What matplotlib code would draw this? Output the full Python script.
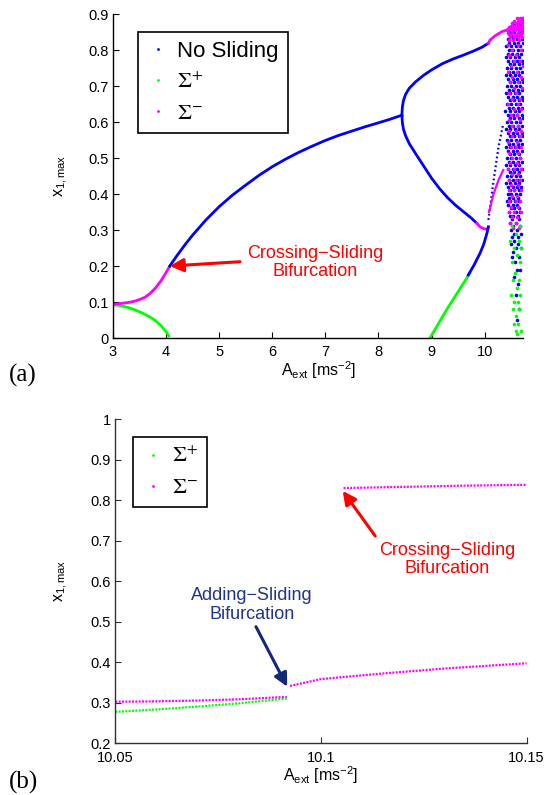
import numpy as np
import matplotlib.pyplot as plt
from matplotlib.lines import Line2D

plt.rcParams['font.family'] = ['Liberation Sans', 'DejaVu Sans']
plt.rcParams['mathtext.fontset'] = 'custom'
plt.rcParams['mathtext.rm'] = 'Liberation Sans'
plt.rcParams['mathtext.it'] = 'Liberation Sans:italic'
plt.rcParams['mathtext.bf'] = 'Liberation Sans:bold'

BLUE = '#0000ff'
GREEN = '#00ff00'
PINK = '#ff00ff'

# ---- panel (a): full bifurcation diagram, A_ext from 3 to ~10.7 ----
green_left_x = [3.0, 3.1, 3.2, 3.3, 3.4, 3.5, 3.6, 3.7, 3.8, 3.9, 4.0, 4.05]
green_left_y = [0.092, 0.091, 0.088, 0.084, 0.079, 0.073, 0.066, 0.058, 0.048, 0.035, 0.018, 0.006]

pink_left_x = [3.0, 3.1, 3.2, 3.3, 3.4, 3.5, 3.6, 3.7, 3.8, 3.9, 4.0, 4.07]
pink_left_y = [0.094, 0.095, 0.097, 0.099, 0.102, 0.107, 0.113, 0.124, 0.139, 0.158, 0.182, 0.200]

blue_main_x = [4.07, 4.2, 4.35, 4.5, 4.75, 5.0, 5.25, 5.5, 5.75, 6.0, 6.25, 6.5,
               6.75, 7.0, 7.25, 7.5, 7.75, 8.0, 8.2, 8.44]
blue_main_y = [0.200, 0.228, 0.258, 0.286, 0.328, 0.365, 0.397, 0.425, 0.452, 0.476, 0.497, 0.516,
               0.533, 0.549, 0.563, 0.575, 0.587, 0.598, 0.607, 0.619]

blue_upper_x = [8.44, 8.45, 8.47, 8.51, 8.58, 8.7, 8.85, 9.0, 9.2, 9.4, 9.6, 9.8, 9.95, 10.07]
blue_upper_y = [0.619, 0.642, 0.660, 0.677, 0.694, 0.712, 0.730, 0.745, 0.762, 0.775, 0.786, 0.798, 0.808, 0.819]

pink_upper_x = [10.07, 10.1, 10.2, 10.32, 10.42]
pink_upper_y = [0.819, 0.828, 0.840, 0.851, 0.856]

blue_lower_x = [8.44, 8.45, 8.47, 8.51, 8.58, 8.7, 8.85, 9.0, 9.15, 9.3, 9.45, 9.6, 9.75, 9.85]
blue_lower_y = [0.619, 0.598, 0.580, 0.562, 0.540, 0.512, 0.478, 0.444, 0.415, 0.390, 0.369, 0.351, 0.333, 0.319]

pink_lower_x = [9.85, 9.91, 9.98, 10.04, 10.06]
pink_lower_y = [0.319, 0.309, 0.304, 0.302, 0.305]

green_right_x = [8.97, 9.28, 9.6, 9.72]
green_right_y = [0.0, 0.078, 0.152, 0.180]

blue_right_x = [9.69, 9.8, 9.91, 9.98, 10.04, 10.07]
blue_right_y = [0.175, 0.203, 0.235, 0.260, 0.290, 0.309]

blue_sparse_x = [10.07, 10.16, 10.26, 10.35]
blue_sparse_y = [0.328, 0.430, 0.531, 0.596]

pink_short_x = [10.08, 10.1, 10.16, 10.26, 10.35]
pink_short_y = [0.350, 0.360, 0.397, 0.439, 0.467]

# chaotic band: rows of (x_max value, A_ext values where a point sits)
chaos_blue_rows = [
    (0.87, [10.56, 10.63, 10.69]), (0.86, [10.48, 10.60, 10.68]),
    (0.85, [10.47, 10.55, 10.64, 10.71]), (0.84, [10.50, 10.58, 10.66]),
    (0.83, [10.44, 10.53, 10.61, 10.70]), (0.82, [10.45, 10.55, 10.63, 10.72]),
    (0.81, [10.41, 10.49, 10.58, 10.67]), (0.80, [10.46, 10.54, 10.62, 10.71]),
    (0.79, [10.43, 10.51, 10.60, 10.68]), (0.78, [10.40, 10.48, 10.57, 10.65]),
    (0.77, [10.44, 10.53, 10.61, 10.70]), (0.76, [10.47, 10.56, 10.64, 10.72]),
    (0.75, [10.42, 10.50, 10.59, 10.67]), (0.74, [10.46, 10.54, 10.63, 10.71]),
    (0.73, [10.40, 10.48, 10.57, 10.65]), (0.72, [10.44, 10.53, 10.61, 10.70]),
    (0.71, [10.47, 10.56, 10.64, 10.72]), (0.70, [10.42, 10.50, 10.59, 10.67]),
    (0.69, [10.46, 10.54, 10.63, 10.71]), (0.68, [10.40, 10.48, 10.57, 10.65]),
    (0.67, [10.44, 10.53, 10.61, 10.70]), (0.66, [10.47, 10.56, 10.64, 10.72]),
    (0.65, [10.42, 10.50, 10.59, 10.67]), (0.64, [10.46, 10.54, 10.63, 10.71]),
    (0.63, [10.39, 10.48, 10.57, 10.65]), (0.62, [10.44, 10.53, 10.61, 10.70]),
    (0.61, [10.47, 10.56, 10.64, 10.72]), (0.60, [10.42, 10.50, 10.59, 10.67]),
    (0.59, [10.46, 10.54, 10.63, 10.71]), (0.58, [10.40, 10.48, 10.57, 10.65]),
    (0.57, [10.44, 10.53, 10.61, 10.70]), (0.56, [10.47, 10.56, 10.64, 10.72]),
    (0.55, [10.42, 10.50, 10.59, 10.67]), (0.54, [10.46, 10.54, 10.63, 10.71]),
    (0.53, [10.40, 10.48, 10.57, 10.65]), (0.52, [10.44, 10.53, 10.61, 10.70]),
    (0.51, [10.47, 10.56, 10.64]), (0.50, [10.42, 10.50, 10.59, 10.67]),
    (0.49, [10.46, 10.54, 10.63, 10.71]), (0.48, [10.41, 10.48, 10.57, 10.65]),
    (0.47, [10.44, 10.53, 10.61, 10.70]), (0.46, [10.47, 10.56, 10.64]),
    (0.45, [10.42, 10.50, 10.59, 10.67]), (0.44, [10.46, 10.54, 10.63, 10.71]),
    (0.43, [10.41, 10.48, 10.57, 10.65]), (0.42, [10.44, 10.53, 10.61, 10.69]),
    (0.41, [10.47, 10.56, 10.64]), (0.40, [10.43, 10.50, 10.59, 10.67]),
    (0.39, [10.46, 10.54, 10.63]), (0.38, [10.42, 10.48, 10.57, 10.65]),
    (0.37, [10.44, 10.53, 10.61]), (0.36, [10.50, 10.56, 10.64]),
    (0.35, [10.45, 10.59, 10.67]), (0.34, [10.48, 10.54, 10.63]),
    (0.33, [10.52, 10.65]), (0.32, [10.47, 10.58]), (0.31, [10.53, 10.66]),
    (0.30, [10.49, 10.61]), (0.29, [10.56, 10.69]), (0.28, [10.51, 10.63]),
    (0.27, [10.55]), (0.26, [10.50, 10.63]), (0.25, [10.58, 10.68]),
    (0.24, [10.53]), (0.225, [10.52, 10.65]), (0.21, [10.57]),
    (0.19, [10.60, 10.66]), (0.17, [10.55]), (0.15, [10.62]),
    (0.12, [10.58]), (0.08, [10.64]), (0.05, [10.60]),
]

chaos_pink_rows = [
    (0.888, [10.60, 10.66, 10.70, 10.73]), (0.880, [10.55, 10.62, 10.68, 10.72]),
    (0.875, [10.52, 10.58, 10.65, 10.70]), (0.868, [10.49, 10.56, 10.63, 10.69, 10.73]),
    (0.865, [10.46, 10.55, 10.61, 10.67, 10.72]), (0.858, [10.44, 10.52, 10.59, 10.66, 10.71]),
    (0.855, [10.42, 10.49, 10.57, 10.64, 10.69]), (0.848, [10.43, 10.51, 10.62, 10.70]),
    (0.845, [10.45, 10.53, 10.60, 10.66]), (0.838, [10.47, 10.58, 10.68]),
    (0.835, [10.48, 10.56, 10.62, 10.71]), (0.828, [10.46, 10.54, 10.64]),
    (0.815, [10.43, 10.62]), (0.80, [10.52, 10.69]), (0.785, [10.46, 10.58]),
    (0.77, [10.55, 10.66]), (0.755, [10.49, 10.72]), (0.74, [10.44, 10.60]),
    (0.725, [10.52, 10.68]), (0.71, [10.48, 10.62]), (0.695, [10.55, 10.70]),
    (0.68, [10.45, 10.59]), (0.665, [10.51, 10.66]), (0.65, [10.43, 10.62]),
    (0.635, [10.55, 10.69]), (0.62, [10.49, 10.60]), (0.605, [10.45, 10.66]),
    (0.59, [10.52, 10.62]), (0.575, [10.46, 10.58, 10.69]), (0.56, [10.51, 10.66]),
    (0.545, [10.44, 10.60]), (0.53, [10.49, 10.58, 10.68]), (0.515, [10.45, 10.62]),
    (0.50, [10.52, 10.66]), (0.485, [10.48, 10.60]), (0.47, [10.44, 10.56, 10.69]),
    (0.455, [10.51, 10.62]), (0.44, [10.46, 10.58, 10.66]), (0.425, [10.50, 10.62]),
    (0.41, [10.45, 10.56, 10.68]), (0.395, [10.51, 10.61]), (0.38, [10.46, 10.58, 10.66]),
    (0.365, [10.50, 10.62]), (0.35, [10.45, 10.56, 10.68]), (0.335, [10.51, 10.61]),
    (0.32, [10.47, 10.58]), (0.305, [10.53, 10.64]),
]

chaos_green_rows = [
    (0.31, [10.52, 10.66]), (0.29, [10.58]), (0.27, [10.48, 10.64]),
    (0.25, [10.55, 10.69]), (0.23, [10.60]), (0.21, [10.51, 10.66]),
    (0.18, [10.57]), (0.16, [10.53, 10.64]), (0.14, [10.60]),
    (0.12, [10.50, 10.67]), (0.10, [10.56, 10.62]), (0.08, [10.53, 10.65]),
    (0.06, [10.59]), (0.04, [10.55, 10.63]), (0.02, [10.58, 10.68]), (0.01, [10.61]),
]

a_xticks = [3, 4, 5, 6, 7, 8, 9, 10]
a_yticks = [0, 0.1, 0.2, 0.3, 0.4, 0.5, 0.6, 0.7, 0.8, 0.9]
a_yticklabels = ['0', '0.1', '0.2', '0.3', '0.4', '0.5', '0.6', '0.7', '0.8', '0.9']

# ---- panel (b): zoom between 10.05 and 10.15 ----
b_plus_x = [10.05, 10.06, 10.07, 10.08, 10.0917]
b_plus_y = [0.277, 0.283, 0.290, 0.298, 0.310]

b_minus_low_x = [10.05, 10.06, 10.07, 10.08, 10.0917]
b_minus_low_y = [0.302, 0.303, 0.305, 0.308, 0.314]

b_minus_mid_x = [10.0925, 10.10, 10.1152, 10.1314, 10.15]
b_minus_mid_y = [0.341, 0.358, 0.372, 0.385, 0.397]

b_minus_top_x = [10.1055, 10.12, 10.135, 10.15]
b_minus_top_y = [0.830, 0.833, 0.836, 0.838]

b_xticks = [10.05, 10.1, 10.15]
b_xticklabels = ['10.05', '10.1', '10.15']
b_yticks = [0.2, 0.3, 0.4, 0.5, 0.6, 0.7, 0.8, 0.9, 1.0]
b_yticklabels = ['0.2', '0.3', '0.4', '0.5', '0.6', '0.7', '0.8', '0.9', '1']


def flatten(rows):
    xs = [x for y, row in rows for x in row]
    ys = [y for y, row in rows for x in row]
    return xs, ys


def style_axes(ax, spine_color, xpad):
    for side in ['top', 'right']:
        ax.spines[side].set_visible(False)
    for side in ['left', 'bottom']:
        ax.spines[side].set_color(spine_color)
        ax.spines[side].set_linewidth(1.0)
    ax.tick_params(direction='in', length=4, width=0.8, labelsize=10.5, pad=3,
                   color=spine_color)
    ax.tick_params(axis='x', pad=xpad)


fig = plt.figure(figsize=(5.45, 7.95), dpi=100)

# panel (a)
ax1 = fig.add_axes([0.2073, 0.5748, 0.7532, 0.4075])
lw = 2.0
ax1.plot(green_left_x, green_left_y, color=GREEN, lw=lw)
ax1.plot(pink_left_x, pink_left_y, color=PINK, lw=lw)
ax1.plot(blue_main_x, blue_main_y, color=BLUE, lw=lw)
ax1.plot(blue_upper_x, blue_upper_y, color=BLUE, lw=lw)
ax1.plot(pink_upper_x, pink_upper_y, color=PINK, lw=lw)
ax1.plot(blue_lower_x, blue_lower_y, color=BLUE, lw=lw)
ax1.plot(pink_lower_x, pink_lower_y, color=PINK, lw=lw)
ax1.plot(green_right_x, green_right_y, color=GREEN, lw=lw)
ax1.plot(blue_right_x, blue_right_y, color=BLUE, lw=lw)
ax1.plot(blue_sparse_x, blue_sparse_y, color=BLUE, lw=1.6, ls=(0, (0.8, 1.2)))
ax1.plot(pink_short_x, pink_short_y, color=PINK, lw=1.6)

for rows, col in [(chaos_blue_rows, BLUE), (chaos_pink_rows, PINK), (chaos_green_rows, GREEN)]:
    cx, cy = flatten(rows)
    ax1.plot(cx, cy, ls='none', marker='o', ms=2.6, mew=0, color=col)

ax1.set_xlim(3, 10.73)
ax1.set_ylim(0, 0.9)
ax1.set_xticks(a_xticks)
ax1.set_yticks(a_yticks)
ax1.set_yticklabels(a_yticklabels)
style_axes(ax1, 'black', 5.0)
ax1.set_xlabel(r'A$_{\mathrm{ext}}$ [ms$^{-2}$]', fontsize=11.5, labelpad=0)
ax1.set_ylabel(r'x$_{1,\mathrm{max}}$', fontsize=11.5)
ax1.yaxis.set_label_coords(-0.105, 0.5)

handles_a = [Line2D([], [], ls='none', marker='o', ms=2, mew=0, color=c) for c in [BLUE, GREEN, PINK]]
leg1 = ax1.legend(handles_a, ['No Sliding', r'$\Sigma^{+}$', r'$\Sigma^{-}$'],
                  loc='upper left', bbox_to_anchor=(0.0616, 0.945), borderaxespad=0,
                  fontsize=16, handlelength=1.0, handletextpad=0.35, borderpad=0.4,
                  labelspacing=0.45, fancybox=False, framealpha=1, edgecolor='black')
leg1.get_frame().set_linewidth(1.2)
for t in leg1.get_texts()[1:]:
    t.set_math_fontfamily('stix')

ax1.text(6.80, 0.21, 'Crossing\u2212Sliding\nBifurcation', color='#ff0000', fontsize=13,
         ha='center', va='center', linespacing=1.1)
ax1.annotate('', xy=(4.07, 0.2), xytext=(5.39, 0.212),
             arrowprops=dict(arrowstyle='-|>', color='#ff0000', lw=2.2, mutation_scale=20,
                             shrinkA=0, shrinkB=0))

# panel (b)
ax2 = fig.add_axes([0.2116, 0.0654, 0.7545, 0.4072])
ax2.plot(b_plus_x, b_plus_y, color=GREEN, lw=1.6, ls=(0, (0.9, 0.6)))
ax2.plot(b_minus_low_x, b_minus_low_y, color=PINK, lw=1.6, ls=(0, (0.9, 0.6)))
ax2.plot(b_minus_mid_x, b_minus_mid_y, color=PINK, lw=1.6, ls=(0, (0.9, 0.6)))
ax2.plot(b_minus_top_x, b_minus_top_y, color=PINK, lw=1.6, ls=(0, (0.9, 0.6)))

ax2.set_xlim(10.05, 10.15)
ax2.set_ylim(0.2, 1.0)
ax2.set_xticks(b_xticks)
ax2.set_xticklabels(b_xticklabels)
ax2.set_yticks(b_yticks)
ax2.set_yticklabels(b_yticklabels)
style_axes(ax2, '#333333', 5.5)
ax2.set_xlabel(r'A$_{\mathrm{ext}}$ [ms$^{-2}$]', fontsize=11.5, labelpad=0)
ax2.set_ylabel(r'x$_{1,\mathrm{max}}$', fontsize=11.5)
ax2.yaxis.set_label_coords(-0.11, 0.5)

handles_b = [Line2D([], [], ls='none', marker='o', ms=2, mew=0, color=c) for c in [GREEN, PINK]]
leg2 = ax2.legend(handles_b, [r'$\Sigma^{+}$', r'$\Sigma^{-}$'],
                  loc='upper left', bbox_to_anchor=(0.0438, 0.944), borderaxespad=0,
                  fontsize=16, handlelength=1.0, handletextpad=0.35, borderpad=0.4,
                  labelspacing=0.45, fancybox=False, framealpha=1, edgecolor='black')
leg2.get_frame().set_linewidth(1.2)
for t in leg2.get_texts():
    t.set_math_fontfamily('stix')

ax2.text(10.1306, 0.6535, 'Crossing\u2212Sliding\nBifurcation', color='#ff0000', fontsize=13,
         ha='center', va='center', linespacing=1.1)
ax2.annotate('', xy=(10.1053, 0.823), xytext=(10.1132, 0.7116),
             arrowprops=dict(arrowstyle='-|>', color='#ff0000', lw=2.2, mutation_scale=20,
                             shrinkA=0, shrinkB=0))
ax2.text(10.0832, 0.541, 'Adding\u2212Sliding\nBifurcation', color='#1f3490', fontsize=13,
         ha='center', va='center', linespacing=1.1)
ax2.annotate('', xy=(10.0918, 0.339), xytext=(10.0842, 0.4875),
             arrowprops=dict(arrowstyle='-|>', color='#13287a', lw=2.2, mutation_scale=20,
                             shrinkA=0, shrinkB=0))

fig.text(8.7 / 545, 1 - 375 / 795, '(a)', family='Liberation Serif', fontsize=18, va='center')
fig.text(8.7 / 545, 1 - 782 / 795, '(b)', family='Liberation Serif', fontsize=18, va='center')

fig.savefig('out.png', dpi=100)
